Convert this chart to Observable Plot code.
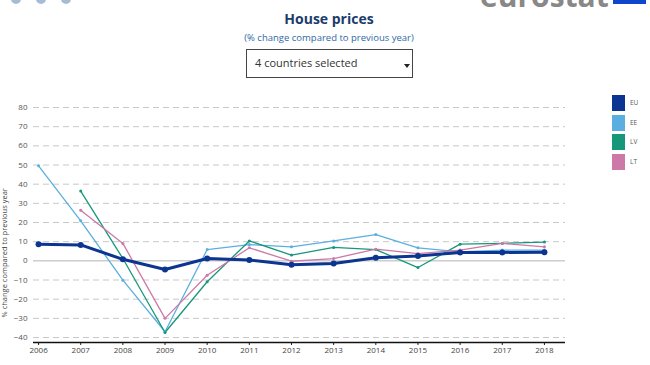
<!DOCTYPE html>
<html>
<head>
<meta charset="utf-8">
<script src="https://cdn.jsdelivr.net/npm/d3@7"></script>
<script src="https://cdn.jsdelivr.net/npm/@observablehq/plot@0.6"></script>
<style>
  body { margin:0; width:650px; height:365px; overflow:hidden; background:#fff; font-family:"Open Sans", sans-serif; position:relative; }
  #title { position:absolute; left:0; width:658px; top:9px; text-align:center; font-weight:bold; font-size:14px; color:#1b3c6c; }
  #subtitle { position:absolute; left:0; width:658px; top:31px; text-align:center; font-size:9.5px; color:#2f69a8; }
  #dropdown { position:absolute; left:246px; top:49px; width:165px; height:27px; border:1px solid #444; box-sizing:content-box; font-size:11px; color:#333; }
  #dropdown span { position:absolute; left:8px; top:5px; }
  #caret { position:absolute; left:157px; top:14px; width:0; height:0; border-left:3px solid transparent; border-right:3px solid transparent; border-top:4px solid #222; }
  #chart { position:absolute; left:0; top:90px; }
  #legend { position:absolute; left:612px; top:95px; }
  .lg { position:relative; height:19.7px; }
  .lg .sw { position:absolute; left:0; top:0; width:13px; height:16px; }
  .lg .lb { position:absolute; left:18px; top:3px; font-size:6.5px; color:#555; }
  .dot { position:absolute; top:-6px; width:10px; height:10px; border-radius:50%; background:#6b8fb5; opacity:0.6; }
  #logo { position:absolute; left:480px; top:-25px; font-size:30px; font-weight:bold; color:#888; }
  #logobox { position:absolute; left:613px; top:-4px; width:33px; height:8px; background:#0e47cb; }
</style>
</head>
<body>
<div class="dot" style="left:11px"></div>
<div class="dot" style="left:36px"></div>
<div class="dot" style="left:61px"></div>
<div id="logo">eurostat</div>
<div id="logobox"></div>
<div id="title">House prices</div>
<div id="subtitle">(% change compared to previous year)</div>
<div id="dropdown"><span>4 countries selected</span><div id="caret"></div></div>
<div id="chart"></div>
<div id="legend"></div>
<script>
const years = [2006,2007,2008,2009,2010,2011,2012,2013,2014,2015,2016,2017,2018];
const seriesNames = ["EU","EE","LV","LT"];
const colors = ["#0b3591","#5aafe0","#17977a","#cc79a7"];
const EU = [8.6,8.3,0.8,-4.5,1.2,0.4,-2.0,-1.4,1.6,2.5,4.4,4.4,4.5];
const EE = [49.6,20.9,-10.1,-37.0,5.9,8.5,7.3,10.4,13.7,6.8,4.7,5.6,5.6];
const LV = [null,36.4,1.2,-37.4,-10.9,10.4,3.0,7.0,5.9,-3.5,8.7,9.1,9.8];
const LT = [null,26.4,9.1,-30.0,-7.5,6.8,-0.2,1.2,6.1,3.8,5.6,9.1,7.3];
const yTicks = [-40,-30,-20,-10,0,10,20,30,40,50,60,70,80];

const valuesBySeries = {EU, EE, LV, LT};
const rows = [];
for (const s of seriesNames) {
  years.forEach((yr, i) => {
    const v = valuesBySeries[s][i];
    if (v != null) rows.push({series:s, year:yr, value:v});
  });
}
const colorOf = Object.fromEntries(seriesNames.map((s,i)=>[s,colors[i]]));
const thin = rows.filter(d => d.series !== "EU");
const eu = rows.filter(d => d.series === "EU");

const chart = Plot.plot({
  width: 650,
  height: 272,
  marginLeft: 33,
  marginRight: 85,
  marginTop: 17,
  marginBottom: 20,
  style: {fontFamily: "'Open Sans', sans-serif", fontSize: "8px", color: "#555"},
  x: {domain: [2005.88, 2018.5], label: null},
  y: {domain: [-42.6, 80], label: null},
  marks: [
    Plot.ruleY(yTicks.filter(t => t !== 0), {stroke: "#c8c8c8", strokeDasharray: "6,4", strokeWidth: 1, x1: 2005.88, x2: 2018.5}),
    Plot.ruleY([0], {stroke: "#b5b5b5", strokeWidth: 1}),
    Plot.axisY({ticks: yTicks, tickSize: 0, tickPadding: 6, label: null, fill: "#555"}),
    Plot.axisX({ticks: years, tickFormat: d => String(d), tickSize: 3, tickPadding: 2, label: null, stroke: "#222", fill: "#444"}),
    Plot.ruleY([-42.6], {stroke: "#111", strokeWidth: 1.5}),
    Plot.text(["% change compared to previous year"], {frameAnchor: "bottom-left", textAnchor: "start", dx: -27, dy: -25, rotate: -90, fontSize: 7.5, fill: "#444"}),
    Plot.line(thin, {x: "year", y: "value", z: "series", stroke: d => colorOf[d.series], strokeWidth: 1.3}),
    Plot.dot(thin, {x: "year", y: "value", fill: d => colorOf[d.series], r: 1.5}),
    Plot.line(eu, {x: "year", y: "value", stroke: colorOf.EU, strokeWidth: 3}),
    Plot.dot(eu, {x: "year", y: "value", fill: colorOf.EU, r: 3})
  ]
});
document.getElementById("chart").appendChild(chart);

const lg = document.getElementById("legend");
seriesNames.forEach((s, i) => {
  const row = document.createElement("div");
  row.className = "lg";
  row.innerHTML = `<div class="sw" style="background:${colors[i]}"></div><div class="lb">${s}</div>`;
  lg.appendChild(row);
});
</script>
</body>
</html>
